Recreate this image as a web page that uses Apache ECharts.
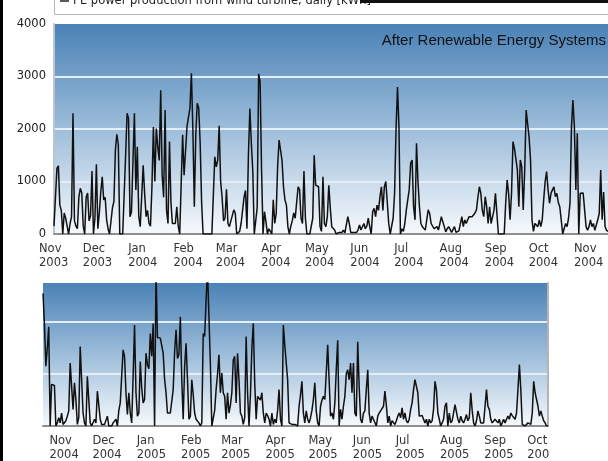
<!DOCTYPE html>
<html>
<head>
<meta charset="utf-8">
<script src="https://cdn.jsdelivr.net/npm/echarts@6/dist/echarts.min.js"></script>
<style>
  html, body { margin: 0; padding: 0; background: #fff; }
  #chart { width: 608px; height: 461px; }
</style>
</head>
<body>
<div id="chart"></div>
<script>
// daily PE production [kWh], first panel starts 2003-11-01
var topStart = '2003-11-01';
var topValues = [
  150, 700, 1250, 1300, 550, 450, 0, 400, 300, 150,
  0, 200, 330, 2300, 250, 150, 100, 700, 870, 780,
  150, 0, 700, 780, 250, 350, 1200, 0, 300, 1330,
  100, 400, 800, 1090, 650, 700, 270, 100, 0, 0,
  500, 620, 1600, 1900, 1700, 0, 0, 0, 0, 1500,
  2300, 2200, 330, 425, 450, 2300, 840, 1660, 330, 140,
  140, 1310, 775, 330, 450, 200, 150, 900, 2040, 1000,
  2010, 1660, 1400, 2740, 1120, 700, 2360, 450, 200, 1760,
  600, 200, 200, 200, 520, 150, 0, 0, 1890, 1120,
  1100, 2050, 2050, 2400, 3060, 2000, 520, 1900, 2490, 2400,
  1730, 585, 0, 0, 0, 0, 0, 0, 0, 0,
  1470, 1280, 1400, 2060, 1000, 700, 250, 300, 850, 200,
  140, 250, 250, 460, 400, 0, 0, 50, 200, 450,
  700, 830, 100, 1500, 2390, 1730, 1200, 0, 0, 500,
  3050, 2900, 1220, 0, 425, 235, 0, 100, 50, 0,
  650, 200, 390, 1300, 1790, 1760, 1400, 900, 650, 550,
  140, 0, 150, 250, 400, 300, 600, 900, 850, 300,
  200, 1200, 300, 0, 0, 0, 0, 300, 1500, 930,
  900, 900, 140, 50, 1090, 200, 140, 330, 930, 500,
  140, 170, 75, 0, 0, 30, 0, 30, 75, 20,
  20, 330, 200, 30, 0, 30, 0, 30, 75, 170,
  75, 100, 200, 100, 150, 300, 140, 0, 425, 490,
  330, 550, 450, 710, 900, 450, 900, 1000, 600, 200,
  0, 0, 300, 775, 2000, 2800, 2040, 0, 100, 50,
  200, 450, 650, 840, 1350, 1410, 520, 270, 1730, 1000,
  520, 200, 140, 140, 75, 270, 460, 390, 200, 170,
  100, 100, 140, 75, 200, 330, 360, 140, 40, 100,
  140, 140, 30, 15, 140, 30, 0, 60, 60, 330,
  140, 270, 200, 270, 330, 360, 330, 330, 400, 460,
  700, 900, 775, 450, 330, 710, 520, 200, 520, 200,
  200, 450, 775, 390, 0, 0, 0, 0, 0, 585,
  1030, 775, 270, 775, 1760, 1630, 1660, 1220, 520, 1410,
  1280, 460, 1200, 2360, 2100, 1850, 1410, 270, 50, 200,
  200, 140, 270, 140, 270, 650, 1000, 1190, 840, 585,
  775, 840, 900, 710, 775, 600, 520, 270, 0, 0,
  200, 140, 300, 585, 2040, 2550, 2040, 840, 1920, 0,
  775, 800, 780, 775, 140, 70, 140, 270, 140, 200,
  70, 70, 270, 390, 1220, 270, 800, 140, 70, 50
];

// second panel starts 2004-10-17
var bottomStart = '2004-10-17';
var bottomValues = [
  2550, 1970, 1150, 1500, 1910, 0, 800, 815, 780, 0,
  60, 160, 60, 250, 30, 60, 100, 190, 290, 1210,
  1210, 320, 830, 510, 30, 160, 1530, 1560, 250, 60,
  0, 955, 990, 60, 0, 0, 130, 60, 670, 640,
  130, 30, 60, 30, 0, 190, 0, 30, 0, 60,
  60, 130, 0, 300, 445, 420, 1465, 1340, 640, 220,
  640, 250, 60, 955, 1940, 640, 190, 250, 1240, 730,
  445, 510, 1400, 1180, 1100, 1780, 1340, 1970, 0, 3000,
  1700, 1690, 1690, 1680, 1400, 900, 640, 250, 280, 250,
  250, 700, 1430, 1850, 1300, 1370, 2100, 890, 130, 1150,
  1590, 890, 130, 190, 890, 600, 250, 130, 100, 60,
  0, 60, 1780, 1720, 2420, 3000, 3000, 1200, 0, 0,
  300, 700, 1000, 1370, 640, 1020, 640, 570, 130, 640,
  250, 400, 640, 1270, 1340, 445, 1400, 900, 250, 190,
  30, 160, 1720, 640, 0, 600, 1500, 1975, 830, 130,
  570, 570, 500, 640, 250, 60, 250, 200, 130, 0,
  250, 30, 130, 60, 300, 700, 130, 0, 1940, 1560,
  1560, 890, 60, 60, 30, 30, 30, 0, 0, 380,
  600, 860, 250, 60, 290, 130, 60, 160, 300, 510,
  830, 290, 60, 0, 380, 500, 570, 510, 1020, 1560,
  890, 190, 250, 130, 445, 1080, 1650, 0, 320, 130,
  380, 570, 1000, 1080, 890, 1210, 640, 1210, 250, 190,
  1620, 760, 130, 60, 250, 290, 700, 1080, 250, 60,
  190, 130, 130, 0, 190, 250, 290, 300, 380, 670,
  400, 60, 190, 0, 100, 130, 30, 100, 190, 250,
  160, 350, 130, 250, 100, 60, 130, 320, 445, 700,
  890, 890, 640, 190, 220, 200, 130, 60, 130, 0,
  130, 60, 100, 320, 860, 700, 250, 130, 0, 60,
  130, 380, 445, 0, 250, 60, 100, 130, 410, 380,
  130, 60, 190, 100, 60, 130, 220, 100, 160, 640,
  300, 60, 0, 100, 290, 190, 60, 60, 60, 380,
  700, 380, 320, 130, 60, 60, 130, 160, 60, 130,
  0, 60, 130, 60, 130, 190, 130, 250, 200, 190,
  130, 250, 700, 1180, 700, 30, 0, 0, 0, 60,
  60, 30, 250, 860, 640, 670, 380, 190, 290, 190,
  100, 60, 0, 0
];

var monthNames = ['Jan', 'Feb', 'Mar', 'Apr', 'May', 'Jun', 'Jul', 'Aug', 'Sep', 'Oct', 'Nov', 'Dec'];
var seriesName = 'PE power production from wind turbine, daily [kWh]';
var sourceNote = 'After Renewable Energy Systems';

function dayList(start, count) {
  var p = start.split('-');
  var t0 = Date.UTC(+p[0], +p[1] - 1, +p[2]);
  var out = [];
  for (var i = 0; i < count; i++) {
    out.push(new Date(t0 + i * 86400000).toISOString().slice(0, 10));
  }
  return out;
}

var topDays = dayList(topStart, topValues.length);
var bottomDays = dayList(bottomStart, bottomValues.length);

function plotBg() {
  return new echarts.graphic.LinearGradient(0, 0, 0, 1, [
    { offset: 0, color: '#4a82b6' },
    { offset: 0.5, color: '#9dbdda' },
    { offset: 1, color: '#f6f9fc' }
  ]);
}

var labelFont = 'DejaVu Sans';
// month + year, both lines left aligned inside one block
var xLabel = {
  interval: function (idx, value) { return value.slice(8) === '01'; },
  formatter: function (value) {
    return '{m|' + monthNames[+value.slice(5, 7) - 1] + '}\n{m|' + value.slice(0, 4) + '}';
  },
  rich: {
    m: { width: 30, align: 'left', fontFamily: labelFont, fontSize: 11.5, color: '#333', lineHeight: 14 }
  },
  margin: 8
};
var gridLine = { show: true, showMinLine: false, showMaxLine: false, lineStyle: { color: '#e4eef8', width: 2 } };

var chart = echarts.init(document.getElementById('chart'));
chart.setOption({
  animation: false,
  backgroundColor: '#fff',
  grid: [
    { left: 54, top: 24, width: 554, height: 210, show: true, backgroundColor: plotBg(), borderWidth: 0 },
    { left: 43, top: 283, width: 505, height: 144, show: true, backgroundColor: plotBg(), borderWidth: 0 }
  ],
  xAxis: [
    {
      type: 'category', gridIndex: 0, data: topDays, boundaryGap: false,
      axisLine: { lineStyle: { color: '#8f8f8f', width: 2 } },
      axisTick: { show: false }, splitLine: { show: false },
      axisLabel: xLabel
    },
    {
      type: 'category', gridIndex: 1, data: bottomDays, boundaryGap: false,
      axisLine: { lineStyle: { color: '#8f8f8f', width: 2 } },
      axisTick: { show: false }, splitLine: { show: false },
      axisLabel: xLabel
    }
  ],
  yAxis: [
    {
      type: 'value', gridIndex: 0, min: 0, max: 4000, interval: 1000,
      axisLine: { show: true, lineStyle: { color: '#bcc5cf', width: 2 } },
      axisTick: { show: false },
      axisLabel: { fontFamily: labelFont, fontSize: 11.5, color: '#222', margin: 8,
        formatter: function (v) { return String(v); } },
      splitLine: gridLine
    },
    {
      type: 'value', gridIndex: 1, position: 'right', min: 0, max: 2750, interval: 1000,
      axisLine: { show: true, lineStyle: { color: '#b4b4b4', width: 2 } },
      axisTick: { show: false },
      axisLabel: { show: false },
      splitLine: gridLine
    }
  ],
  series: [
    {
      name: seriesName, type: 'line', xAxisIndex: 0, yAxisIndex: 0,
      data: topValues, showSymbol: false, silent: true,
      lineStyle: { color: '#111', width: 1.5 }
    },
    {
      name: seriesName, type: 'line', xAxisIndex: 1, yAxisIndex: 1,
      data: bottomValues, showSymbol: false, silent: true, clip: true,
      lineStyle: { color: '#111', width: 1.5 }
    }
  ],
  graphic: [
    // legend box, cut off at the top of the scan
    { type: 'rect', z: 100, shape: { x: 54.5, y: -10, width: 570, height: 24.5 },
      style: { fill: '#fff', stroke: '#b5b5b5', lineWidth: 1 } },
    { type: 'line', z: 101, shape: { x1: 60, y1: 1, x2: 69, y2: 1 },
      style: { stroke: '#222', lineWidth: 1.5 } },
    { type: 'text', z: 101, x: 73, y: 1,
      style: { text: seriesName, font: '11.5px "DejaVu Sans"', fill: '#222',
        verticalAlign: 'middle', textVerticalAlign: 'middle' } },
    { type: 'rect', z: 102, shape: { x: 360, y: 0, width: 250, height: 3 }, style: { fill: '#111' } },
    // scan edge on the left
    { type: 'rect', z: 102, shape: { x: 0, y: 0, width: 3, height: 461 }, style: { fill: '#000' } },
    { type: 'text', z: 101, x: 606, y: 41,
      style: { text: sourceNote, font: '15px "Liberation Sans"', fill: '#111',
        align: 'right', textAlign: 'right', verticalAlign: 'middle', textVerticalAlign: 'middle' } },
    // second panel is cropped on the right
    { type: 'rect', z: 100, shape: { x: 549.5, y: 428, width: 60, height: 33 }, style: { fill: '#fff' } }
  ]
});
</script>
</body>
</html>
